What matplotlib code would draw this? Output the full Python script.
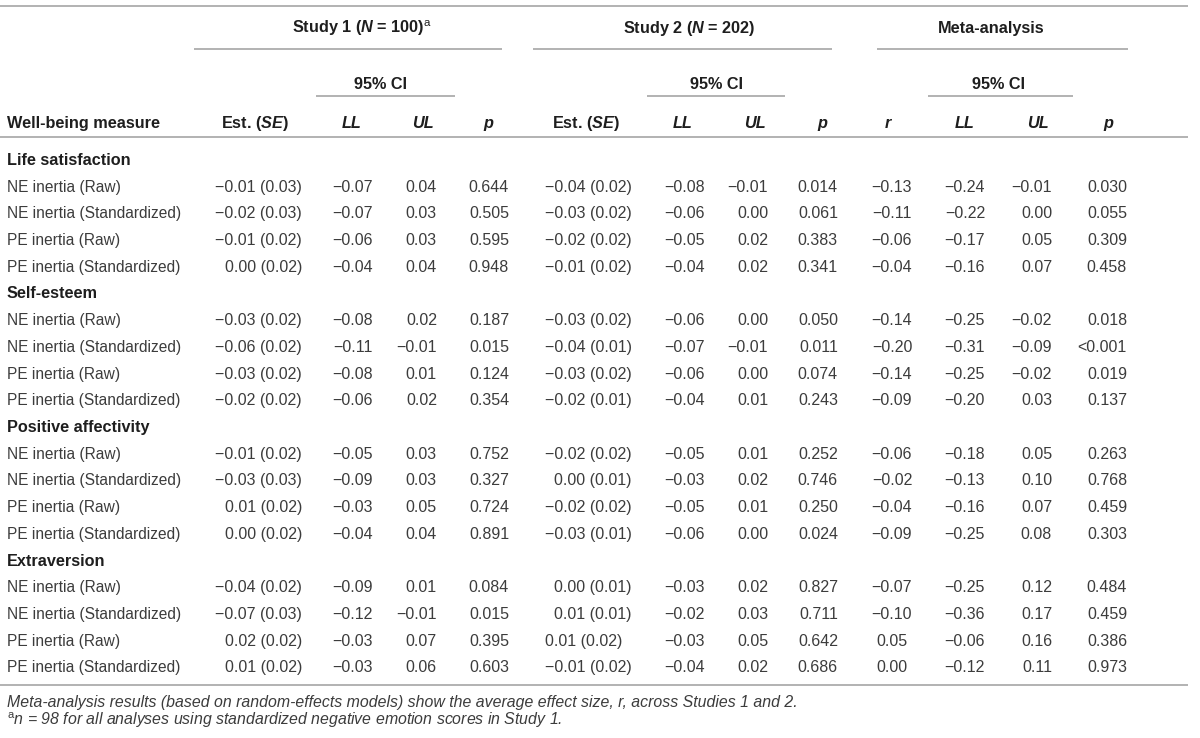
import matplotlib
matplotlib.use('Agg')
import matplotlib.pyplot as plt

plt.rcParams['font.family'] = ['Liberation Sans', 'DejaVu Sans']
plt.rcParams['mathtext.fontset'] = 'custom'
plt.rcParams['mathtext.rm'] = 'Liberation Sans'
plt.rcParams['mathtext.it'] = 'Liberation Sans:italic'
plt.rcParams['mathtext.bf'] = 'Liberation Sans:bold'
plt.rcParams['mathtext.bfit'] = 'Liberation Sans:bold:italic'

M = '\u2212'

sections = ['Life satisfaction', 'Self-esteem', 'Positive affectivity', 'Extraversion']
measures = ['NE inertia (Raw)', 'NE inertia (Standardized)',
            'PE inertia (Raw)', 'PE inertia (Standardized)']

# study 1 (N = 100)
s1_est = ['-0.01 (0.03)', '-0.02 (0.03)', '-0.01 (0.02)', '0.00 (0.02)',
          '-0.03 (0.02)', '-0.06 (0.02)', '-0.03 (0.02)', '-0.02 (0.02)',
          '-0.01 (0.02)', '-0.03 (0.03)', '0.01 (0.02)', '0.00 (0.02)',
          '-0.04 (0.02)', '-0.07 (0.03)', '0.02 (0.02)', '0.01 (0.02)']
s1_ll = ['-0.07', '-0.07', '-0.06', '-0.04', '-0.08', '-0.11', '-0.08', '-0.06',
         '-0.05', '-0.09', '-0.03', '-0.04', '-0.09', '-0.12', '-0.03', '-0.03']
s1_ul = ['0.04', '0.03', '0.03', '0.04', '0.02', '-0.01', '0.01', '0.02',
         '0.03', '0.03', '0.05', '0.04', '0.01', '-0.01', '0.07', '0.06']
s1_p = ['0.644', '0.505', '0.595', '0.948', '0.187', '0.015', '0.124', '0.354',
        '0.752', '0.327', '0.724', '0.891', '0.084', '0.015', '0.395', '0.603']

# study 2 (N = 202)
s2_est = ['-0.04 (0.02)', '-0.03 (0.02)', '-0.02 (0.02)', '-0.01 (0.02)',
          '-0.03 (0.02)', '-0.04 (0.01)', '-0.03 (0.02)', '-0.02 (0.01)',
          '-0.02 (0.02)', '0.00 (0.01)', '-0.02 (0.02)', '-0.03 (0.01)',
          '0.00 (0.01)', '0.01 (0.01)', '0.01 (0.02)', '-0.01 (0.02)']
s2_ll = ['-0.08', '-0.06', '-0.05', '-0.04', '-0.06', '-0.07', '-0.06', '-0.04',
         '-0.05', '-0.03', '-0.05', '-0.06', '-0.03', '-0.02', '-0.03', '-0.04']
s2_ul = ['-0.01', '0.00', '0.02', '0.02', '0.00', '-0.01', '0.00', '0.01',
         '0.01', '0.02', '0.01', '0.00', '0.02', '0.03', '0.05', '0.02']
s2_p = ['0.014', '0.061', '0.383', '0.341', '0.050', '0.011', '0.074', '0.243',
        '0.252', '0.746', '0.250', '0.024', '0.827', '0.711', '0.642', '0.686']

# meta-analysis
meta_r = ['-0.13', '-0.11', '-0.06', '-0.04', '-0.14', '-0.20', '-0.14', '-0.09',
          '-0.06', '-0.02', '-0.04', '-0.09', '-0.07', '-0.10', '0.05', '0.00']
meta_ll = ['-0.24', '-0.22', '-0.17', '-0.16', '-0.25', '-0.31', '-0.25', '-0.20',
           '-0.18', '-0.13', '-0.16', '-0.25', '-0.25', '-0.36', '-0.06', '-0.12']
meta_ul = ['-0.01', '0.00', '0.05', '0.07', '-0.02', '-0.09', '-0.02', '0.03',
           '0.05', '0.10', '0.07', '0.08', '0.12', '0.17', '0.16', '0.11']
meta_p = ['0.030', '0.055', '0.309', '0.458', '0.018', '<0.001', '0.019', '0.137',
          '0.263', '0.768', '0.459', '0.303', '0.484', '0.459', '0.386', '0.973']

group_titles = [r'Study 1 ($\mathbfit{N}$ = 100)$^{\mathrm{a}}$',
                r'Study 2 ($\mathbfit{N}$ = 202)', 'Meta-analysis']
col_titles = [r'Est. ($\mathbfit{SE}$)', 'LL', 'UL', 'p',
              r'Est. ($\mathbfit{SE}$)', 'LL', 'UL', 'p',
              'r', 'LL', 'UL', 'p']
note1 = 'Meta-analysis results (based on random-effects models) show the average effect size, r, across Studies 1 and 2.'
note2 = r'$^{\mathrm{a}}$n = 98 for all analyses using standardized negative emotion scores in Study 1.'

# layout (pixels)
W, H = 1200, 738
FS = 11.7        # bold headers
FS_NUM = 11.5    # numbers
FS_LAB = 11.2    # row labels
FS_NOTE = 11.4
body_c = '#3c3c3c'
head_c = '#1e1e1e'
rule_c = '#a6a6a6'

fig = plt.figure(figsize=(12, 7.38), dpi=100)
ax = fig.add_axes([0, 0, 1, 1])
ax.set_xlim(0, W)
ax.set_ylim(H, 0)
ax.axis('off')

# rules
ax.hlines([6, 137, 685], 0, 1188, color=rule_c, lw=1.2)
ax.hlines([49, 49, 49], [194, 533, 877], [502, 832, 1128], color=rule_c, lw=1.2)
ax.hlines([96, 96, 96], [316, 647, 928], [455, 785, 1073], color=rule_c, lw=1.2)

# header
for x, t in zip([362, 689, 991], group_titles):
    ax.text(x, 33, t, ha='center', va='baseline', fontsize=FS,
            fontweight='bold', color=head_c)
for x in [380, 716, 999]:
    ax.text(x, 89, '95% CI', ha='center', va='baseline', fontsize=FS,
            fontweight='bold', color=head_c)
ax.text(7, 128, 'Well-being measure', ha='left', va='baseline', fontsize=FS,
        fontweight='bold', color=head_c)
head_x = [255, 352, 423, 488, 586, 683, 755, 822, 888, 965, 1038, 1108]
for x, t in zip(head_x, col_titles):
    style = 'normal' if t.startswith('Est') else 'italic'
    ax.text(x, 128, t, ha='center', va='baseline', fontsize=FS,
            fontweight='bold', fontstyle=style, color=head_c)

# body
columns = [s1_est, s1_ll, s1_ul, s1_p, s2_est, s2_ll, s2_ul, s2_p,
           meta_r, meta_ll, meta_ul, meta_p]
col_x = [302, 373, 437, 509, 632, 705, 768, 838, 892, 985, 1052, 1127]
col_ha = ['right'] * 8 + ['center'] + ['right'] * 3

y0, dy = 165, 26.7
line = 0
k = 0
for s, sec in enumerate(sections):
    ax.text(7, y0 + line * dy, sec, ha='left', va='baseline', fontsize=FS,
            fontweight='bold', color=head_c)
    line += 1
    for m in measures:
        y = y0 + line * dy
        ax.text(7, y, m, ha='left', va='baseline', fontsize=FS_LAB, color=body_c)
        for c, (vals, x, ha) in enumerate(zip(columns, col_x, col_ha)):
            txt = vals[k].replace('-', M)
            if c == 4 and k == 14:
                # this cell sits flush left in the source table
                x, ha = 545, 'left'
            ax.text(x, y, txt, ha=ha, va='baseline', fontsize=FS_NUM, color=body_c)
        line += 1
        k += 1

ax.text(7, 707, note1, ha='left', va='baseline', fontsize=FS_NOTE,
        fontstyle='italic', color=body_c)
ax.text(7, 725, note2, ha='left', va='baseline', fontsize=FS_NOTE,
        fontstyle='italic', color=body_c)

fig.savefig('out.png', dpi=100)
